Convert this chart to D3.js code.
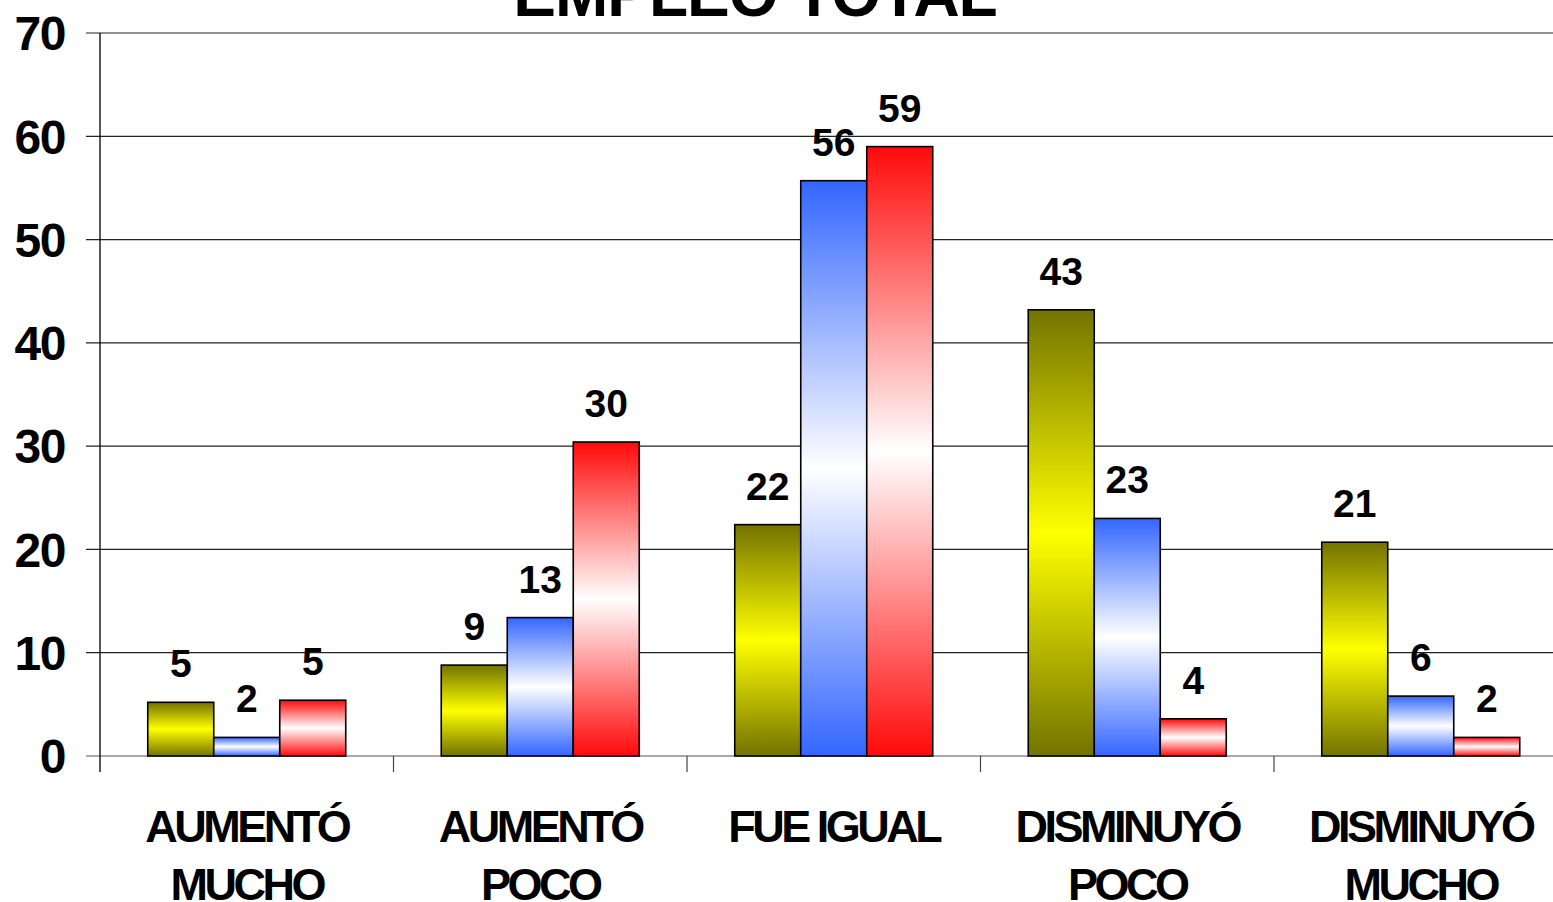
<!DOCTYPE html>
<html>
<head>
<meta charset="utf-8">
<script src="https://cdn.jsdelivr.net/npm/d3@7"></script>
<style>
	body { margin: 0; background: #fff; overflow: hidden; }
	svg { display: block; font-family: "Liberation Sans", Arial, sans-serif; font-weight: bold; }
</style>
</head>
<body>
<script>
// chart data
var categories = [ ["AUMENTÓ", "MUCHO"], ["AUMENTÓ", "POCO"], ["FUE IGUAL"], ["DISMINUYÓ", "POCO"], ["DISMINUYÓ", "MUCHO"] ];
var seriesNames = [ "s1", "s2", "s3" ];
var seriesA = [ 5.2, 8.8, 22.4, 43.2, 20.7 ];
var seriesB = [ 1.8, 13.4, 55.7, 23.0, 5.8 ];
var seriesC = [ 5.4, 30.4, 59.0, 3.6, 1.8 ];
var yTicks = [ 0, 10, 20, 30, 40, 50, 60, 70 ];
var title = "EMPLEO TOTAL";

var width = 1553, height = 902;
var margin = { left: 100, top: 33, bottom: 146 };
var plotRight = 1567.5;

var svg = d3.select("body").append("svg")
	.attr("width", width)
	.attr("height", height);

// gradients: dark edges, light middle
var gradColors = [
	{ id: "gA", edge: "#737300", mid: "#ffff00" },
	{ id: "gB", edge: "#3366ff", mid: "#ffffff" },
	{ id: "gC", edge: "#ff0a0a", mid: "#ffffff" }
];
var defs = svg.append("defs");
gradColors.forEach(function(g) {
	var lg = defs.append("linearGradient")
		.attr("id", g.id)
		.attr("x1", 0).attr("y1", 0).attr("x2", 0).attr("y2", 1);
	lg.append("stop").attr("offset", "0%").attr("stop-color", g.edge);
	lg.append("stop").attr("offset", "50%").attr("stop-color", g.mid);
	lg.append("stop").attr("offset", "100%").attr("stop-color", g.edge);
});

var keys = categories.map(function(d, i) { return i; });
var x0 = d3.scaleBand().domain(keys).range([margin.left, plotRight]).padding(0);
var x1 = d3.scaleBand().domain(d3.range(3)).range([47.75, x0.bandwidth() - 47.75]).padding(0);
var y = d3.scaleLinear().domain([0, 70]).range([height - margin.bottom, margin.top]);

// gridlines
svg.append("g")
	.selectAll("line")
	.data(yTicks).enter()
	.append("line")
		.attr("x1", 86)
		.attr("x2", width)
		.attr("y1", function(d) { return y(d); })
		.attr("y2", function(d) { return y(d); })
		.attr("stroke", function(d) { return d == 0 ? "#555" : "#222"; })
		.attr("stroke-width", 1.2);

// left axis line
svg.append("line")
	.attr("x1", margin.left).attr("x2", margin.left)
	.attr("y1", y(70)).attr("y2", y(0) + 16)
	.attr("stroke", "#000").attr("stroke-width", 1.3);

// category ticks
svg.append("g")
	.selectAll("line")
	.data(keys.slice(1)).enter()
	.append("line")
		.attr("x1", function(d) { return x0(d); })
		.attr("x2", function(d) { return x0(d); })
		.attr("y1", y(0))
		.attr("y2", y(0) + 16)
		.attr("stroke", "#444")
		.attr("stroke-width", 1.2);

// y tick labels
svg.append("g")
	.selectAll("text")
	.data(yTicks).enter()
	.append("text")
		.attr("x", 65)
		.attr("y", function(d) { return y(d); })
		.attr("dy", "0.36em")
		.attr("text-anchor", "end")
		.attr("font-size", 48)
		.attr("letter-spacing", "-1.5px")
		.text(function(d) { return d; });

// bars
var rows = keys.map(function(i) { return [ seriesA[i], seriesB[i], seriesC[i] ]; });
var groups = svg.append("g")
	.selectAll("g")
	.data(rows).enter()
	.append("g")
		.attr("transform", function(d, i) { return "translate(" + x0(i) + ",0)"; });

groups.selectAll("rect")
	.data(function(d) { return d; }).enter()
	.append("rect")
		.attr("x", function(d, i) { return x1(i); })
		.attr("width", x1.bandwidth())
		.attr("y", function(d) { return y(d); })
		.attr("height", function(d) { return y(0) - y(d); })
		.attr("fill", function(d, i) { return "url(#" + gradColors[i].id + ")"; })
		.attr("stroke", "#000")
		.attr("stroke-width", 1.6);

groups.selectAll("text")
	.data(function(d) { return d; }).enter()
	.append("text")
		.attr("x", function(d, i) { return x1(i) + x1.bandwidth() / 2; })
		.attr("y", function(d) { return y(d) - 25; })
		.attr("text-anchor", "middle")
		.attr("font-size", 39)
		.text(function(d) { return Math.round(d); });

// category labels
var catLabels = svg.append("g")
	.selectAll("text")
	.data(categories).enter()
	.append("text")
		.attr("x", function(d, i) { return x0(i) + x0.bandwidth() / 2; })
		.attr("y", 842)
		.attr("text-anchor", "middle")
		.attr("font-size", 45)
		.attr("letter-spacing", "-3.5px");
catLabels.selectAll("tspan")
	.data(function(d) { return d; }).enter()
	.append("tspan")
		.attr("x", function() { return this.parentNode.getAttribute("x"); })
		.attr("dy", function(d, i) { return i == 0 ? 0 : 58; })
		.text(function(d) { return d; });

// title (partly cut off at the top)
svg.append("text")
	.attr("x", 755)
	.attr("y", 16)
	.attr("text-anchor", "middle")
	.attr("font-size", 64)
	.attr("letter-spacing", "-1px")
	.text(title);
</script>
</body>
</html>
